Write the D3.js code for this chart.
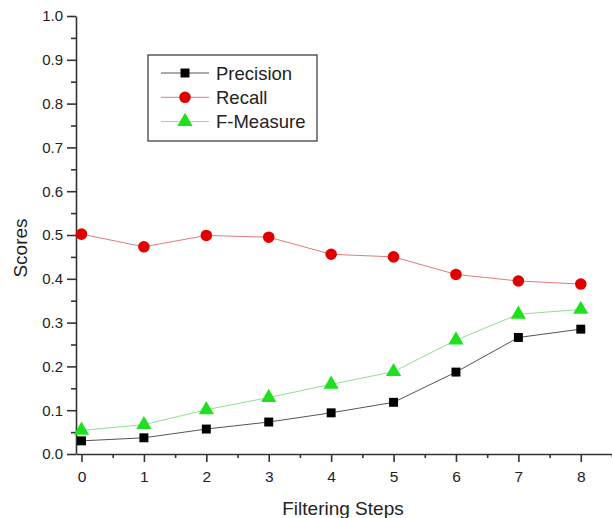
<!DOCTYPE html>
<html>
<head>
<meta charset="utf-8">
<script src="https://cdn.jsdelivr.net/npm/d3@7/dist/d3.min.js"></script>
<style>
  body { margin: 0; background: #fff; }
  text { font-family: "Liberation Sans", Arial, sans-serif; fill: #222; }
</style>
</head>
<body>
<script>
// filtering steps on the x axis
var steps = [0, 1, 2, 3, 4, 5, 6, 7, 8];

// scores
var precision = [0.030, 0.037, 0.057, 0.073, 0.094, 0.118, 0.187, 0.266, 0.285];
var recall    = [0.502, 0.473, 0.499, 0.495, 0.456, 0.450, 0.410, 0.395, 0.388];
var fMeasure  = [0.054, 0.067, 0.101, 0.129, 0.159, 0.188, 0.260, 0.319, 0.330];

var yTicks = d3.range(0, 1.0001, 0.1);
var xMinor = d3.range(0.5, 8.6, 1);
var yMinor = d3.range(0.05, 1, 0.1);

var width = 612, height = 518;

var svg = d3.select("body").append("svg")
    .attr("width", width)
    .attr("height", height);

// scales - plot area left edge 76, bottom 454
var x = d3.scaleLinear().domain([-0.088, 8.5]).range([76, 612]);
var y = d3.scaleLinear().domain([0, 1]).range([454, 16]);

var series = [
    { name: "Precision", values: precision, line: "#555", fill: "#000", shape: d3.symbolSquare, size: 80 },
    { name: "Recall",    values: recall,    line: "#e07b7b", fill: "#e00000", shape: d3.symbolCircle, size: 105 },
    { name: "F-Measure", values: fMeasure,  line: "#8fe08f", fill: "#1ee01e", shape: d3.symbolTriangle, size: 100 }
];

// x axis, major and minor ticks
svg.append("g")
    .attr("transform", "translate(0," + y(0) + ")")
    .call(d3.axisBottom(x).tickValues(steps).tickSize(8).tickSizeOuter(0).tickPadding(9).tickFormat(d3.format("d")))
    .call(g => g.selectAll("text").style("font-size", "15.5px"));

svg.append("g")
    .attr("transform", "translate(0," + y(0) + ")")
    .call(d3.axisBottom(x).tickValues(xMinor).tickSize(4).tickSizeOuter(0).tickFormat(""))
    .call(g => g.select(".domain").remove());

// y axis, major and minor ticks
svg.append("g")
    .attr("transform", "translate(" + x.range()[0] + ",0)")
    .call(d3.axisLeft(y).tickValues(yTicks).tickSize(9).tickSizeOuter(0).tickPadding(4).tickFormat(d3.format(".1f")))
    .call(g => g.selectAll("text").style("font-size", "15px"));

svg.append("g")
    .attr("transform", "translate(" + x.range()[0] + ",0)")
    .call(d3.axisLeft(y).tickValues(yMinor).tickSize(5).tickSizeOuter(0).tickFormat(""))
    .call(g => g.select(".domain").remove());

svg.selectAll(".domain, .tick line")
    .attr("stroke", "#333")
    .attr("stroke-width", 1.6);

// axis titles
svg.append("text")
    .attr("x", 343)
    .attr("y", 515)
    .attr("text-anchor", "middle")
    .style("font-size", "19px")
    .text("Filtering Steps");

svg.append("text")
    .attr("transform", "translate(27,248) rotate(-90)")
    .attr("text-anchor", "middle")
    .style("font-size", "19px")
    .text("Scores");

// lines and markers
var line = d3.line()
    .x((d, i) => x(steps[i]))
    .y(d => y(d));

series.forEach(function (s) {
    svg.append("path")
        .datum(s.values)
        .attr("fill", "none")
        .attr("stroke", s.line)
        .attr("stroke-width", 1)
        .attr("d", line);

    svg.selectAll(null)
        .data(s.values)
        .enter()
        .append("path")
        .attr("transform", (d, i) => "translate(" + x(steps[i]) + "," + y(d) + ")")
        .attr("d", d3.symbol().type(s.shape).size(s.size))
        .attr("fill", s.fill);
});

// legend
var legend = svg.append("g").attr("transform", "translate(148,55)");

legend.append("rect")
    .attr("width", 169)
    .attr("height", 86)
    .attr("fill", "#fff")
    .attr("stroke", "#333")
    .attr("stroke-width", 1.2);

series.forEach(function (s, i) {
    var row = legend.append("g").attr("transform", "translate(0," + (18 + i * 24.3) + ")");
    row.append("line")
        .attr("x1", 13).attr("x2", 61)
        .attr("stroke", s.line)
        .attr("stroke-width", 1);
    row.append("path")
        .attr("transform", "translate(37,0)")
        .attr("d", d3.symbol().type(s.shape).size(s.size))
        .attr("fill", s.fill);
    row.append("text")
        .attr("x", 68)
        .attr("dy", "0.36em")
        .style("font-size", "18.5px")
        .text(s.name);
});
</script>
</body>
</html>
